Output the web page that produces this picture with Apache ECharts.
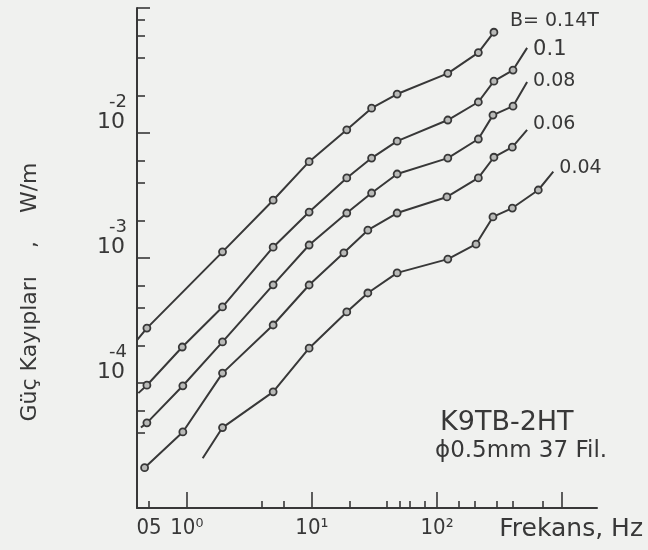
<!DOCTYPE html>
<html>
<head>
<meta charset="utf-8">
<script src="https://cdn.jsdelivr.net/npm/echarts@6/dist/echarts.min.js"></script>
<style>
html,body{margin:0;padding:0;background:#f0f1ef;}
#chart{width:648px;height:550px;}
</style>
</head>
<body>
<div id="chart"></div>
<script>
// ---- data (frequency in Hz, loss in W/m) ----
const seriesNames = ['B= 0.14T', '0.1', '0.08', '0.06', '0.04'];

const f014 = [0.40, 0.48, 1.93, 4.9, 9.5, 19, 30, 48, 122, 214, 285];
const p014 = [2.2e-4, 2.75e-4, 1.12e-3, 2.9e-3, 5.9e-3, 1.06e-2, 1.58e-2, 2.05e-2, 3.0e-2, 4.4e-2, 6.4e-2];
const unmarked014 = [0];

const f010 = [0.41, 0.48, 0.92, 1.93, 4.9, 9.5, 19, 30, 48, 122, 214, 285, 405, 525];
const p010 = [8.3e-5, 9.6e-5, 1.94e-4, 4.06e-4, 1.22e-3, 2.33e-3, 4.37e-3, 6.3e-3, 8.6e-3, 1.27e-2, 1.77e-2, 2.6e-2, 3.19e-2, 4.8e-2];
const unmarked010 = [0, 13];

const f008 = [0.43, 0.48, 0.93, 1.93, 4.9, 9.5, 19, 30, 48, 122, 214, 280, 405, 525];
const p008 = [4.4e-5, 4.8e-5, 9.5e-5, 2.13e-4, 6.1e-4, 1.27e-3, 2.29e-3, 3.31e-3, 4.7e-3, 6.3e-3, 8.95e-3, 1.39e-2, 1.64e-2, 2.56e-2];
const unmarked008 = [0, 13];

const f006 = [0.46, 0.93, 1.93, 4.9, 9.5, 18, 28, 48, 120, 214, 285, 400, 525];
const p006 = [2.1e-5, 4.06e-5, 1.2e-4, 2.91e-4, 6.08e-4, 1.1e-3, 1.67e-3, 2.29e-3, 3.08e-3, 4.37e-3, 6.4e-3, 7.7e-3, 1.06e-2];
const unmarked006 = [12];

const f004 = [1.34, 1.93, 4.9, 9.5, 19, 28, 48, 122, 205, 280, 400, 645, 850];
const p004 = [2.5e-5, 4.4e-5, 8.5e-5, 1.9e-4, 3.7e-4, 5.25e-4, 7.6e-4, 9.8e-4, 1.29e-3, 2.13e-3, 2.51e-3, 3.5e-3, 4.9e-3];
const unmarked004 = [0, 12];

// ---- axis ticks and labels ----
const xLabelValues = [0.5, 1, 10, 100];
const xLabelTexts = ['05', '10⁰', '10¹', '10²'];
const xMajorTicks = [1, 10, 100, 1000];
const xMinorTicks = [0.5, 4, 6, 20, 40, 50, 60, 80, 150, 200, 300, 400, 700];

const yLabelValues = [1e-4, 1e-3, 1e-2];
const yLabelExps = ['-4', '-3', '-2'];
const yMajorTicks = [1e-4, 1e-3, 1e-2, 1e-1];
const yMinorTicks = [4e-5, 6e-5, 2e-4, 4e-4, 6e-4, 2e-3, 4e-3, 6e-3, 2e-2, 4e-2, 6e-2, 8e-2];

const endLabelOffsets = [[10, -11], [0, 2], [0, -1], [0, -6], [0, -4]];

// ---- build ----
const INK = '#383838';
const FONT = '"DejaVu Sans", sans-serif';
const FONTC = '"DejaVu Sans Condensed", "DejaVu Sans", sans-serif';

function build(fs, ps, unmarked) {
  return fs.map((f, i) => {
    const item = { value: [f, ps[i]] };
    if (unmarked.indexOf(i) >= 0) item.symbol = 'none';
    return item;
  });
}
const datasets = [
  build(f014, p014, unmarked014),
  build(f010, p010, unmarked010),
  build(f008, p008, unmarked008),
  build(f006, p006, unmarked006),
  build(f004, p004, unmarked004)
];

const chart = echarts.init(document.getElementById('chart'), null, { renderer: 'canvas' });

const xCommon = { type: 'log', logBase: 10, min: 0.4, max: 1900, position: 'bottom', splitLine: { show: false } };
const yCommon = { type: 'log', logBase: 10, min: 1e-5, max: 1e-1, position: 'left', splitLine: { show: false } };

const option = {
  backgroundColor: '#f0f1ef',
  animation: false,
  grid: { left: 137, right: 51, top: 8, bottom: 42, containLabel: false },
  xAxis: [
    Object.assign({}, xCommon, {
      name: 'Frekans, Hz',
      nameLocation: 'end',
      nameGap: 46,
      nameTextStyle: { color: INK, fontFamily: FONT, fontSize: 25, align: 'right', verticalAlign: 'top', padding: [9, 0, 0, 0] },
      axisLine: { show: true, lineStyle: { color: INK, width: 2 } },
      axisTick: { show: true, inside: true, length: 16, customValues: xMajorTicks, lineStyle: { color: INK, width: 1.6 } },
      axisLabel: {
        show: true, customValues: xLabelValues, margin: 9, color: INK, fontFamily: FONTC, fontSize: 22,
        formatter: v => { const i = xLabelValues.findIndex(x => Math.abs(x - v) / x < 1e-6); return i >= 0 ? xLabelTexts[i] : ''; }
      }
    }),
    Object.assign({}, xCommon, {
      axisLine: { show: false },
      axisTick: { show: true, inside: true, length: 7, customValues: xMinorTicks, lineStyle: { color: INK, width: 1.6 } },
      axisLabel: { show: false }
    })
  ],
  yAxis: [
    Object.assign({}, yCommon, {
      axisLine: { show: true, lineStyle: { color: INK, width: 2 } },
      axisTick: { show: true, inside: true, length: 13, customValues: yMajorTicks, lineStyle: { color: INK, width: 1.6 } },
      axisLabel: {
        show: true, customValues: yLabelValues, margin: 10, verticalAlign: 'bottom', align: 'right',
        formatter: v => { const i = yLabelValues.findIndex(x => Math.abs(x - v) / x < 1e-6); return i >= 0 ? '{e|' + yLabelExps[i] + '}\n{b|10}' : ''; },
        rich: {
          e: { color: INK, fontFamily: FONT, fontSize: 18, lineHeight: 20, align: 'right' },
          b: { color: INK, fontFamily: FONT, fontSize: 22, lineHeight: 21, align: 'right', padding: [0, 2, 0, 0] }
        }
      }
    }),
    Object.assign({}, yCommon, {
      axisLine: { show: false },
      axisTick: { show: true, inside: true, length: 8, customValues: yMinorTicks, lineStyle: { color: INK, width: 1.6 } },
      axisLabel: { show: false }
    })
  ],
  series: datasets.map((d, k) => ({
    name: seriesNames[k],
    type: 'line',
    xAxisIndex: 0,
    yAxisIndex: 0,
    data: d,
    symbol: 'circle',
    symbolSize: 7,
    showAllSymbol: true,
    lineStyle: { color: INK, width: 2 },
    itemStyle: { color: '#b9bab8', borderColor: INK, borderWidth: 1.8 },
    endLabel: {
      show: true, formatter: '{a}', distance: 6, offset: endLabelOffsets[k],
      color: INK, fontFamily: FONT, fontSize: k === 1 ? 21 : 19
    },
    z: 3
  })),
  graphic: [
    {
      type: 'text', x: 30, y: 292, rotation: Math.PI / 2,
      style: { text: 'Güç Kayıpları    ,    W/m', fill: INK, font: '22px ' + FONT, textAlign: 'center', textVerticalAlign: 'middle' }
    },
    {
      type: 'text', x: 440, y: 409,
      style: { text: 'K9TB-2HT', fill: INK, font: '27px ' + FONT, textAlign: 'left', textVerticalAlign: 'top' }
    },
    {
      type: 'text', x: 435, y: 440,
      style: { text: 'ϕ0.5mm 37 Fil.', fill: INK, font: '23px ' + FONT, textAlign: 'left', textVerticalAlign: 'top' }
    }
  ]
};
chart.setOption(option);
</script>
</body>
</html>
